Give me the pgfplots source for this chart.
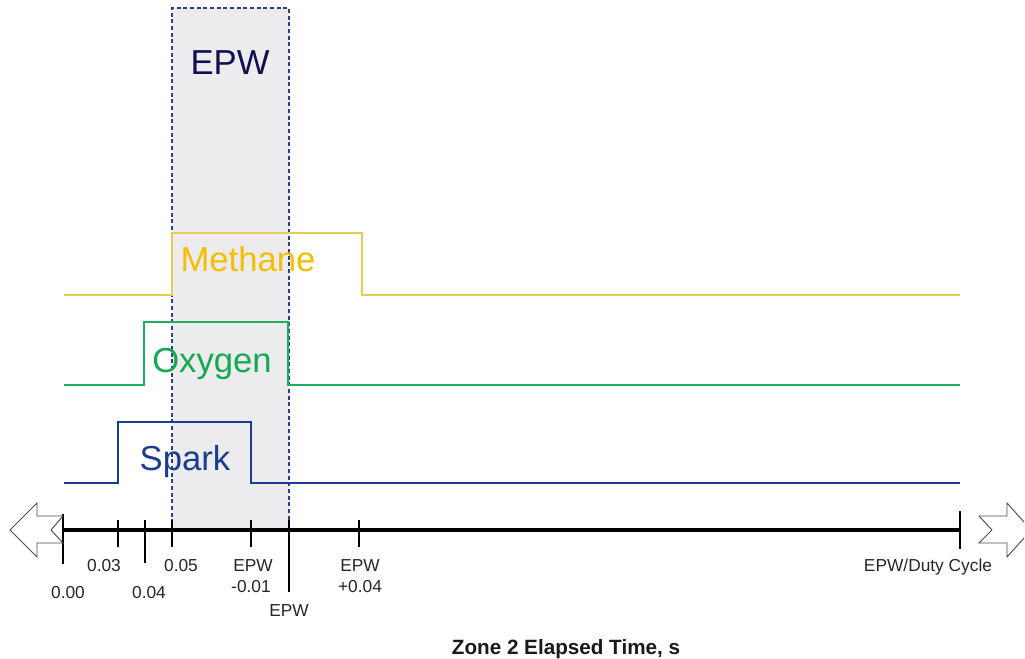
\documentclass[border=0pt]{standalone}
\usepackage{pgfplots}
\pgfplotsset{compat=1.18}
\usepackage{fontspec}
\setmainfont{Liberation Sans}
\definecolor{shade}{HTML}{ECECEF}
\definecolor{dashc}{HTML}{2A3F8F}
\definecolor{methL}{HTML}{E8CB55}
\definecolor{methT}{HTML}{F5BE00}
\definecolor{oxyL}{HTML}{1CAF5C}
\definecolor{oxyT}{HTML}{17A850}
\definecolor{sparkC}{HTML}{1B3D8F}
\definecolor{epwC}{HTML}{10104F}
\begin{document}
\begin{tikzpicture}
\begin{axis}[
  scale only axis, width=768.75pt, height=492.75pt,
  xmin=0, xmax=1025, ymin=0, ymax=657, y dir=reverse,
  axis lines=none, clip=false,
]
\path (axis cs:0,0) rectangle (axis cs:1025,657);
% shaded EPW window
\addplot[fill=shade, draw=none] coordinates {(172,8) (289,8) (289,530) (172,530)} -- cycle;
\addplot[dashc, line width=0.9pt, dash pattern=on 3pt off 2pt] coordinates {(172,530) (172,8) (289,8) (289,530)};
% signals
\addplot[methL, line width=1.6pt] coordinates {(64,295) (172,295) (172,233) (362,233) (362,295) (960,295)};
\addplot[oxyL, line width=1.6pt] coordinates {(64,385) (144,385) (144,322) (288,322) (288,385) (960,385)};
\addplot[sparkC, line width=1.6pt] coordinates {(64,483) (118,483) (118,422) (251,422) (251,483) (960,483)};
% time axis
\addplot[black, line width=2.3pt] coordinates {(63,530) (960,530)};
\addplot[black, line width=1.9pt] coordinates {(63,514) (63,564)};
\addplot[black, line width=1.9pt] coordinates {(118,520) (118,547)};
\addplot[black, line width=1.9pt] coordinates {(145,520) (145,563)};
\addplot[black, line width=1.9pt] coordinates {(172,520) (172,547)};
\addplot[black, line width=1.9pt] coordinates {(251,520) (251,547)};
\addplot[black, line width=1.9pt] coordinates {(289,520) (289,592)};
\addplot[black, line width=1.9pt] coordinates {(359,520) (359,547)};
\addplot[black, line width=1.9pt] coordinates {(960,511) (960,549)};
% hollow arrows
\addplot[black!70, fill=white, line width=0.7pt] coordinates {(10,530) (37,503) (37,516) (63,516) (51,530) (63,543) (37,543) (37,557)} -- cycle;
\addplot[black!70, line width=0.7pt] coordinates {(979,516) (1007,516) (1007,503) (1024,522)};
\addplot[black!70, line width=0.7pt] coordinates {(1024,538) (1007,557) (1007,543) (979,543) (992,530) (979,516)};
% labels
\begin{scope}[every node/.style={anchor=base, inner sep=0pt, text=black!85, font=\fontsize{13}{15}\selectfont}]
\node at (axis cs:68,598) {0.00};
\node at (axis cs:104,571) {0.03};
\node at (axis cs:149,598) {0.04};
\node at (axis cs:181,571) {0.05};
\node at (axis cs:253,571) {EPW};
\node at (axis cs:251,592) {-0.01};
\node at (axis cs:289,616) {EPW};
\node at (axis cs:360,571) {EPW};
\node at (axis cs:360,592) {+0.04};
\node at (axis cs:928,571) {EPW/Duty Cycle};
\end{scope}
\node[anchor=base, inner sep=0pt, text=black!90, font=\fontsize{15.5}{17}\selectfont\bfseries] at (axis cs:566,654) {Zone 2 Elapsed Time, s};
\begin{scope}[every node/.style={anchor=base, inner sep=0pt, font=\fontsize{26}{30}\selectfont}]
\node[text=epwC] at (axis cs:230,75) {EPW};
\node[text=methT] at (axis cs:248,272) {Methane};
\node[text=oxyT] at (axis cs:212,372) {Oxygen};
\node[text=sparkC] at (axis cs:185,470) {Spark};
\end{scope}
\end{axis}
\end{tikzpicture}
\end{document}
